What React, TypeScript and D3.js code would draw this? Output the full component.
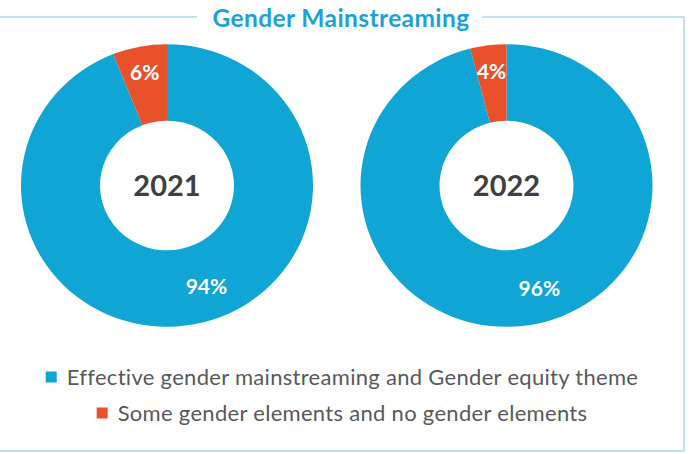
import { useEffect, useRef } from 'react';
import * as d3 from 'd3';

const years = ['2021', '2022'];
const effectiveShare = [94, 96];
const otherShare = [6, 4];
const seriesNames = [
  'Effective gender mainstreaming and Gender equity theme',
  'Some gender elements and no gender elements',
];
const seriesColors = ['#0fa5d4', '#e8512a'];

const W = 692;
const H = 454;

export default function App() {
  const svgRef = useRef<SVGSVGElement>(null);

  useEffect(() => {
    if (!svgRef.current) return;
    const svg = d3.select(svgRef.current);
    svg.selectAll('*').remove();

    const font = "Lato, 'Open Sans', sans-serif";
    const outerR = 146;
    const innerR = 67;
    const squash = 0.968; // picture is a little flattened vertically
    const cy = 185.5;

    // frame with title gap
    const frame = svg.append('g').attr('stroke', '#a8dbf0').attr('stroke-width', 1.5).attr('fill', 'none');
    frame.append('path').attr('d', `M0,17 H197 M482,17 H684 V451 H0`);

    svg.append('text')
      .attr('x', 341)
      .attr('y', 18)
      .attr('dy', '0.36em')
      .attr('text-anchor', 'middle')
      .attr('font-family', font)
      .attr('font-weight', 700)
      .attr('font-size', 24.5)
      .attr('letter-spacing', 0.4)
      .attr('fill', '#1aa3d8')
      .text('Gender Mainstreaming');

    const x = d3.scalePoint<string>().domain(years).range([167, 506.5]);

    const pie = d3.pie<number>().sort(null).value(d => d);
    const arc = d3.arc<d3.PieArcDatum<number>>().innerRadius(innerR).outerRadius(outerR);
    const color = d3.scaleOrdinal<number, string>().domain([0, 1]).range(seriesColors);

    years.forEach((year, yi) => {
      const cx = x(year) || 0;
      const slices = pie([effectiveShare[yi], otherShare[yi]]);

      const g = svg.append('g').attr('transform', `translate(${cx},${cy}) scale(1,${squash})`);
      g.selectAll('path')
        .data(slices)
        .enter()
        .append('path')
        .attr('d', arc)
        .attr('fill', (_, i) => color(i));

      // percentage labels
      slices.forEach(s => {
        const big = s.value > 50;
        const mid = (s.startAngle + s.endAngle) / 2 - (big ? (10 * Math.PI) / 180 : 0);
        const r = big ? 111 : 119;
        const lx = cx + r * Math.sin(mid);
        const ly = cy - r * Math.cos(mid) * squash;
        svg.append('text')
          .attr('x', lx)
          .attr('y', ly)
          .attr('dy', '0.36em')
          .attr('text-anchor', 'middle')
          .attr('font-family', font)
          .attr('font-weight', 700)
          .attr('font-size', 21)
          .attr('fill', '#ffffff')
          .text(`${s.value}%`);
      });

      svg.append('text')
        .attr('x', cx)
        .attr('y', cy)
        .attr('dy', '0.36em')
        .attr('text-anchor', 'middle')
        .attr('font-family', font)
        .attr('font-weight', 700)
        .attr('font-size', 29)
        .attr('fill', '#404040')
        .text(year);
    });

    // legend
    const legendY = [377, 413];
    seriesNames.forEach((name, i) => {
      const row = svg.append('g');
      const t = row.append('text')
        .attr('y', legendY[i])
        .attr('dy', '0.36em')
        .attr('font-family', font)
        .attr('font-size', 22)
        .attr('letter-spacing', 0.3)
        .attr('fill', '#595959')
        .text(name);
      const tw = (t.node() as SVGTextElement).getComputedTextLength();
      const total = 11 + 10 + tw;
      const left = 342 - total / 2;
      row.append('rect')
        .attr('x', left)
        .attr('y', legendY[i] - 5.5)
        .attr('width', 11)
        .attr('height', 11)
        .attr('fill', seriesColors[i]);
      t.attr('x', left + 21);
    });
  }, []);

  return (
    <svg
      ref={svgRef}
      width={W}
      height={H}
      style={{ display: 'block', position: 'absolute', left: 0, top: 0, background: '#ffffff' }}
    />
  );
}
